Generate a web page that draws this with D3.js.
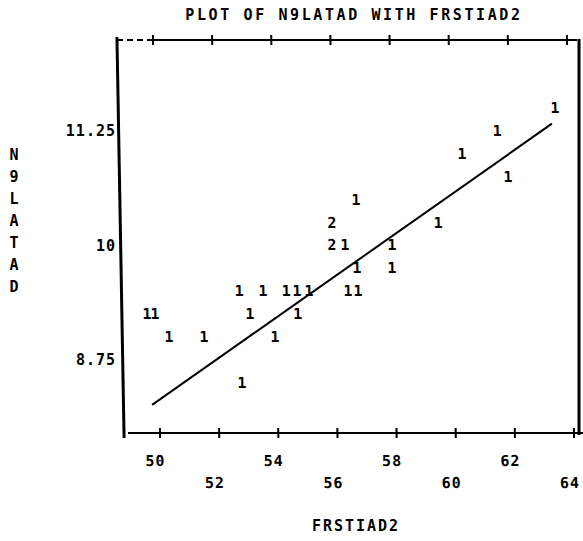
<!DOCTYPE html>
<html>
<head>
<meta charset="utf-8">
<script src="https://cdn.jsdelivr.net/npm/d3@7"></script>
<style>
  html, body { margin: 0; padding: 0; background: #fff; }
  svg { display: block; }
  text { font-family: "DejaVu Sans Mono", "Liberation Mono", monospace; font-weight: bold; fill: #000; }
</style>
</head>
<body>
<svg id="chart" width="583" height="541"></svg>
<script>
// ---- data ----
const titleText = "PLOT OF N9LATAD WITH FRSTIAD2";
const xAxisTitle = "FRSTIAD2";
const yAxisTitle = "N9LATAD";

const xTicks = [50, 52, 54, 56, 58, 60, 62, 64];
const yTicks = [8.75, 10, 11.25];
const yTickLabels = ["8.75", "10", "11.25"];

// plotted symbols: x value, y value, symbol (number of observations)
const pointX = [63.55, 61.58, 60.38, 61.92, 56.77,
                55.94, 59.53,
                55.93, 56.37, 57.96,
                56.76, 57.94,
                52.76, 53.57, 54.35, 54.72, 55.12, 56.44, 56.78,
                49.63, 49.90, 53.11, 54.73,
                50.36, 51.54, 53.94,
                52.80];
const pointY = [11.5, 11.25, 11.0, 10.75, 10.5,
                10.25, 10.25,
                10.0, 10.0, 10.0,
                9.75, 9.75,
                9.5, 9.5, 9.5, 9.5, 9.5, 9.5, 9.5,
                9.25, 9.25, 9.25, 9.25,
                9.0, 9.0, 9.0,
                8.5];
const pointSym = ["1", "1", "1", "1", "1",
                  "2", "1",
                  "2", "1", "1",
                  "1", "1",
                  "1", "1", "1", "1", "1", "1", "1",
                  "1", "1", "1", "1",
                  "1", "1", "1",
                  "1"];

// fitted regression line endpoints
const lineX = [49.75, 63.44];
const lineY = [8.26, 11.33];

// ---- drawing ----
const svg = d3.select("#chart");
const x = d3.scaleLinear().domain([50, 64]).range([160, 574]);
const y = d3.scaleLinear().domain([8.75, 11.25]).range([360, 131]);

const topY = 40, botY = 433, leftX = 124, rightX = 582;

// slight skew of the scanned page
const g = svg.append("g")
  .attr("transform", `translate(0,${botY}) skewX(1.02) translate(0,${-botY})`);

// top border (dashed before the first tick)
g.append("line").attr("x1", leftX).attr("x2", x(50)).attr("y1", topY).attr("y2", topY)
  .attr("stroke", "#000").attr("stroke-width", 2).attr("stroke-dasharray", "6,4");
g.append("line").attr("x1", x(50)).attr("x2", rightX + 2).attr("y1", topY).attr("y2", topY)
  .attr("stroke", "#000").attr("stroke-width", 2);
// bottom axis
g.append("line").attr("x1", leftX + 4).attr("x2", rightX + 2).attr("y1", botY).attr("y2", botY)
  .attr("stroke", "#000").attr("stroke-width", 2.2);
// left border
g.append("line").attr("x1", leftX).attr("x2", leftX).attr("y1", topY - 3).attr("y2", botY + 5)
  .attr("stroke", "#000").attr("stroke-width", 3);

// right border (upright)
svg.append("line").attr("x1", 579).attr("x2", 579).attr("y1", topY - 1).attr("y2", botY + 2)
  .attr("stroke", "#000").attr("stroke-width", 3);

// tick marks top and bottom
[topY, botY].forEach(yy => {
  g.selectAll(null).data(xTicks).enter().append("line")
    .attr("x1", d => x(d)).attr("x2", d => x(d))
    .attr("y1", yy - 5).attr("y2", yy + 5)
    .attr("stroke", "#000").attr("stroke-width", 2);
});

// regression line
g.append("path")
  .datum(lineX.map((v, i) => [v, lineY[i]]))
  .attr("d", d3.line().x(d => x(d[0])).y(d => y(d[1])))
  .attr("fill", "none").attr("stroke", "#000").attr("stroke-width", 2);

// plotted symbols
g.selectAll("text.pt").data(pointX.map((v, i) => ({ x: v, y: pointY[i], s: pointSym[i] })))
  .enter().append("text").attr("class", "pt")
  .attr("x", d => x(d.x)).attr("y", d => y(d.y))
  .attr("text-anchor", "middle").attr("dominant-baseline", "central")
  .attr("font-size", 15)
  .text(d => d.s);

// x tick labels (staggered on two rows)
g.selectAll("text.xt").data(xTicks).enter().append("text").attr("class", "xt")
  .attr("x", d => x(d) - 5)
  .attr("y", (d, i) => i % 2 === 0 ? 461 : 483)
  .attr("text-anchor", "middle").attr("dominant-baseline", "central")
  .attr("font-size", 15).attr("letter-spacing", 1)
  .text(d => d);

// y tick labels
svg.selectAll("text.yt").data(yTicks).enter().append("text").attr("class", "yt")
  .attr("x", 116)
  .attr("y", d => y(d))
  .attr("text-anchor", "end").attr("dominant-baseline", "central")
  .attr("font-size", 15).attr("letter-spacing", 1)
  .text((d, i) => yTickLabels[i]);

// title
svg.append("text").attr("x", 354).attr("y", 15)
  .attr("text-anchor", "middle").attr("dominant-baseline", "central")
  .attr("font-size", 15).attr("letter-spacing", 2.6)
  .text(titleText);

// x axis title
svg.append("text").attr("x", 356).attr("y", 526)
  .attr("text-anchor", "middle").attr("dominant-baseline", "central")
  .attr("font-size", 15).attr("letter-spacing", 2)
  .text(xAxisTitle);

// y axis title, one letter per printer line
svg.selectAll("text.yl").data(yAxisTitle.split("")).enter().append("text").attr("class", "yl")
  .attr("x", 14)
  .attr("y", (d, i) => 155 + i * 22)
  .attr("text-anchor", "middle").attr("dominant-baseline", "central")
  .attr("font-size", 15)
  .text(d => d);
</script>
</body>
</html>
